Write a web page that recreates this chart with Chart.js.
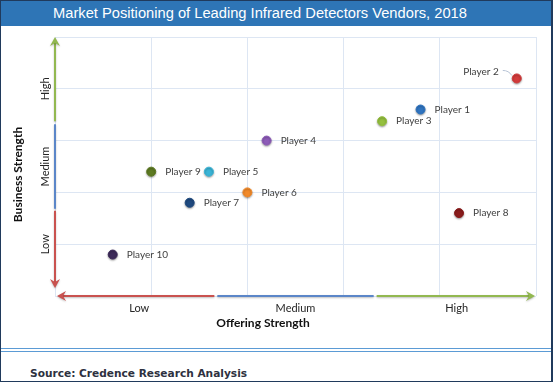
<!DOCTYPE html>
<html>
<head>
<meta charset="utf-8">
<script src="https://cdn.jsdelivr.net/npm/chart.js@4/dist/chart.umd.min.js"></script>
<style>
  body { margin: 0; background: #fff; }
  #title { position: absolute; left: 0; top: 0; width: 500px; height: 26px; padding-left: 53px;
           background: #2e75b6; color: #fff; font: 14.7px "Liberation Sans", Arial, sans-serif; line-height: 27px; }
  #wrap { position: absolute; left: 0; top: 26px; }
  #rule { position: absolute; left: 0; top: 348px; width: 553px; height: 2px;
          border-top: 1px solid #5b9bd5; border-bottom: 1px solid #5b9bd5; }
  #source { position: absolute; left: 30px; top: 367px; font: bold 10.6px "DejaVu Sans", sans-serif; color: #2e3140; }
  #frame { position: absolute; left: 0; top: 0; width: 553px; height: 382px; box-sizing: border-box;
           border: 1px solid #203a5c; border-right-width: 2px; pointer-events: none; }
</style>
</head>
<body>
<div id="title">Market Positioning of Leading Infrared Detectors Vendors, 2018</div>
<div id="wrap"><canvas id="chart" width="553" height="320"></canvas></div>
<div id="rule"></div>
<div id="source">Source: Credence Research Analysis</div>
<div id="frame"></div>
<script>
var players = ['Player 1', 'Player 2', 'Player 3', 'Player 4', 'Player 5', 'Player 6', 'Player 7', 'Player 8', 'Player 9', 'Player 10'];
var offeringStrength = [7.6, 9.6, 6.8, 4.4, 3.2, 4.0, 2.8, 8.4, 2.0, 1.2];
var businessStrength = [7.2, 8.4, 6.75, 6.0, 4.8, 4.0, 3.6, 3.2, 4.8, 1.6];
var playerColors = ['#2f74c0', '#d33b3b', '#95c03f', '#8d5cb8', '#3ab4d6', '#f28a2a', '#1f4a80', '#8b1c1c', '#5d7a22', '#3d2a5a'];

var levelLabels = ['Low', 'Medium', 'High'];
var xLevelTicks = [1.75, 5, 8.35];
var yLevelTicks = [2, 5, 8];

var gridColor = '#dde6f3';
var font = 'Lato, "Open Sans", sans-serif';

// coloured arrows along both axes + axis titles
var axisDecor = {
  id: 'axisDecor',
  beforeDatasetsDraw: function(chart) {
    var ctx = chart.ctx, a = chart.chartArea;
    var xs = chart.scales.x, ys = chart.scales.y;
    var t1 = 10 / 3, t2 = 20 / 3;
    ctx.save();
    ctx.shadowColor = 'rgba(0,0,0,0.25)';
    ctx.shadowBlur = 2;
    ctx.shadowOffsetY = 1;
    ctx.lineWidth = 2;
    var L = a.left, B = a.bottom;
    seg(ctx, '#92b850', L, ys.getPixelForValue(10) + 4, L, ys.getPixelForValue(t2) - 2);
    seg(ctx, '#5b86c8', L, ys.getPixelForValue(t2) + 1, L, ys.getPixelForValue(t1) - 1);
    seg(ctx, '#c9524f', L, ys.getPixelForValue(t1) + 1, L, B - 11);
    seg(ctx, '#c9524f', L + 5, B, xs.getPixelForValue(t1) - 1, B);
    seg(ctx, '#5b86c8', xs.getPixelForValue(t1) + 2, B, xs.getPixelForValue(t2) - 2, B);
    seg(ctx, '#92b850', xs.getPixelForValue(t2) + 1, B, a.right - 4, B);
    head(ctx, '#92b850', L, a.top, 0, -1);
    head(ctx, '#c9524f', L, B - 8, 0, 1);
    head(ctx, '#c9524f', L + 2, B, -1, 0);
    head(ctx, '#92b850', a.right - 1, B, 1, 0);
    ctx.restore();

    ctx.save();
    ctx.fillStyle = '#111';
    ctx.font = 'bold 12px ' + font;
    ctx.textAlign = 'center';
    ctx.textBaseline = 'middle';
    ctx.fillText('Offering Strength', a.left + 208, a.bottom + 27);
    ctx.translate(18, (a.top + a.bottom) / 2 + 8);
    ctx.rotate(-Math.PI / 2);
    ctx.fillText('Business Strength', 0, 0);
    ctx.restore();

    // soft shadow under the dots
    ctx.save();
    ctx.shadowColor = 'rgba(0,0,0,0.35)';
    ctx.shadowBlur = 2;
    ctx.shadowOffsetY = 1;
  },
  afterDatasetsDraw: function(chart) {
    var ctx = chart.ctx;
    ctx.restore();
    var meta = chart.getDatasetMeta(0);
    ctx.save();
    ctx.font = '10px ' + font;
    ctx.fillStyle = '#404040';
    ctx.textBaseline = 'middle';
    meta.data.forEach(function(pt, i) {
      if (players[i] === 'Player 2') {
        ctx.textAlign = 'right';
        ctx.fillText(players[i], pt.x - 18, pt.y - 7);
        ctx.strokeStyle = '#b8c4d6';
        ctx.lineWidth = 1;
        ctx.beginPath();
        ctx.moveTo(pt.x - 14, pt.y - 8);
        ctx.quadraticCurveTo(pt.x - 8, pt.y - 8, pt.x - 5, pt.y - 3);
        ctx.stroke();
      } else {
        ctx.textAlign = 'left';
        ctx.fillText(players[i], pt.x + 14, pt.y);
      }
    });
    ctx.restore();
  }
};

function seg(ctx, color, x1, y1, x2, y2) {
  ctx.strokeStyle = color;
  ctx.beginPath();
  ctx.moveTo(x1, y1);
  ctx.lineTo(x2, y2);
  ctx.stroke();
}

function head(ctx, color, x, y, dx, dy) {
  var len = 9, w = 5, notch = 3;
  var px = -dy, py = dx;
  ctx.fillStyle = color;
  ctx.beginPath();
  ctx.moveTo(x, y);
  ctx.lineTo(x - dx * len + px * w, y - dy * len + py * w);
  ctx.lineTo(x - dx * (len - notch), y - dy * (len - notch));
  ctx.lineTo(x - dx * len - px * w, y - dy * len - py * w);
  ctx.closePath();
  ctx.fill();
}

var points = players.map(function(p, i) {
  return { x: offeringStrength[i], y: businessStrength[i] };
});

new Chart(document.getElementById('chart'), {
  type: 'scatter',
  data: {
    datasets: [{
      label: 'Vendors',
      data: points,
      pointBackgroundColor: playerColors,
      pointBorderColor: playerColors,
      pointRadius: 4.5,
      pointHoverRadius: 4.5
    }]
  },
  options: {
    responsive: false,
    animation: false,
    layout: { padding: { top: 11, right: 17, bottom: 10, left: 0 } },
    plugins: { legend: { display: false }, tooltip: { enabled: false } },
    scales: {
      x: {
        type: 'linear', position: 'bottom', min: 0, max: 10,
        ticks: { stepSize: 2, display: false },
        grid: { color: gridColor, drawTicks: false },
        border: { display: false },
        afterFit: function(s) { s.height = 0; }
      },
      xl: {
        type: 'linear', position: 'bottom', min: 0, max: 10,
        grid: { display: false, drawTicks: false },
        border: { display: false },
        afterBuildTicks: function(s) {
          s.ticks = xLevelTicks.map(function(v) { return { value: v }; });
        },
        ticks: {
          autoSkip: false, maxRotation: 0, padding: 6, color: '#262626',
          font: { family: font, size: 11 },
          callback: function(v, i) { return levelLabels[i]; }
        },
        afterFit: function(s) { s.height = 40; }
      },
      y: {
        type: 'linear', position: 'left', min: 0, max: 10,
        ticks: { stepSize: 2, display: false },
        grid: { color: gridColor, drawTicks: false },
        border: { display: false },
        afterFit: function(s) { s.width = 0; }
      },
      yl: {
        type: 'linear', position: 'left', min: 0, max: 10,
        grid: { display: false, drawTicks: false },
        border: { display: false },
        afterBuildTicks: function(s) {
          s.ticks = yLevelTicks.map(function(v) { return { value: v }; });
        },
        ticks: {
          autoSkip: false, minRotation: 90, maxRotation: 90, crossAlign: 'center', padding: -10,
          color: '#262626', font: { family: font, size: 11 },
          callback: function(v, i) { return levelLabels[i]; }
        },
        afterFit: function(s) { s.width = 55; }
      }
    }
  },
  plugins: [axisDecor]
});
</script>
</body>
</html>
